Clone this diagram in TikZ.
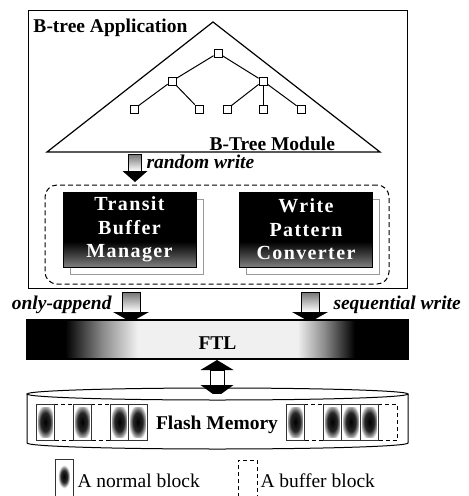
\documentclass[tikz,border=0pt]{standalone}
\usepackage{fontspec}
\setmainfont{Liberation Serif}
\usetikzlibrary{calc}
\pgfdeclareverticalshading{boxsh}{100bp}{color(0bp)=(black!50); color(25bp)=(black!50); color(33bp)=(black!75); color(42bp)=(black); color(100bp)=(black)}
\pgfdeclarehorizontalshading{ftlsh}{100bp}{color(0bp)=(black); color(25bp)=(black); color(30bp)=(black); color(35bp)=(black!45); color(39.5bp)=(black!6); color(60.5bp)=(black!6); color(64bp)=(black!45); color(68bp)=(black); color(75bp)=(black); color(100bp)=(black)}
\pgfdeclareradialshading{blob}{\pgfpoint{0bp}{0bp}}{color(0bp)=(black); color(13bp)=(black!85); color(20bp)=(black!40); color(25bp)=(white); color(50bp)=(white)}
\tikzset{
  tnode/.style={draw, fill=white, minimum size=8pt, inner sep=0pt, line width=0.8pt},
  boldtxt/.style={font=\fontsize{19.5}{23}\selectfont\bfseries, inner sep=0pt},
  labtxt/.style={font=\fontsize{19.5}{23}\selectfont\bfseries\itshape, inner sep=0pt},
  plaintxt/.style={font=\fontsize{19.5}{23}\selectfont, inner sep=0pt},
  darkbox/.style={shade, shading=boxsh, draw=black, minimum width=133pt, minimum height=75pt, inner sep=0pt, text=white, align=center, font=\fontsize{20}{23.5}\selectfont\bfseries\addfontfeature{LetterSpace=7}},
  shadowbox/.style={draw=black!40, line width=1pt, minimum width=133pt, minimum height=75pt, inner sep=0pt},
  nblock/.style={draw=black!80, line width=0.8pt, fill=white, minimum width=18.5pt, minimum height=36pt, inner sep=0pt,
    path picture={\shade[shading=blob] ([xshift=-7.5pt,yshift=-15pt]path picture bounding box.center) rectangle ([xshift=7.5pt,yshift=15pt]path picture bounding box.center);}},
  bblock/.style={draw=black, dash pattern=on 4pt off 3pt, line width=0.9pt, minimum width=18.5pt, minimum height=36pt, inner sep=0pt},
  pics/barrow/.style n args={4}{code={
    \shade[top color=black!55, bottom color=white] (-#1,0) rectangle (#1,#2);
    \draw[line width=1pt] (-#1,#2) -- (-#1,0) -- (#1,0) -- (#1,#2);
    \fill (-#3,#2) -- (#3,#2) -- (0,#2+#4) -- cycle;
  }},
}
\begin{document}
\begin{tikzpicture}[x=1pt, y=-1pt, line width=1pt]
\useasboundingbox (0,0) rectangle (469,496);

% application frame
\node[draw, line width=0.9pt, minimum width=379pt, minimum height=278pt, inner sep=0pt] (appbox) at (217.5,149) {};
\node[boldtxt, anchor=base west] (app) at (33,32) {B-tree Application};

% B-tree module triangle
\draw[line width=1.2pt] (213,22) -- (47,152) -- (380,152) -- cycle;
\node[boldtxt, anchor=base west] (mod) at (209,150) {B-Tree Module};

% tree
\node[tnode] (r) at (218,53) {};
\node[tnode] (a) at (172,81) {};
\node[tnode] (b) at (263,81) {};
\node[tnode] (a1) at (134,109) {};
\node[tnode] (a2) at (199,109) {};
\node[tnode] (b1) at (227,109) {};
\node[tnode] (b2) at (263,109) {};
\node[tnode] (b3) at (301,109) {};
\draw (r) -- (a); \draw (r) -- (b);
\draw (a) -- (a1); \draw (a) -- (a2);
\draw (b) -- (b1); \draw (b) -- (b2); \draw (b) -- (b3);

% random write arrow
\coordinate (rw) at (135,154);
\pic at (rw) {barrow={6.5}{17}{12.5}{11}};
\node[labtxt, anchor=base west] (rwl) at (146,168) {random write};

% dashed group
\node[draw, dash pattern=on 5pt off 3pt, line width=1pt, rounded corners=12pt, minimum width=344pt, minimum height=99pt, inner sep=0pt] (grp) at (217,234.5) {};

\node[shadowbox] (tbms) at (136.5,236.5) {};
\node[shadowbox] (wpcs) at (313,236.5) {};
\node[darkbox] (tbm) at (129.5,229.5) {Transit\\Buffer\\Manager};
\node[darkbox] (wpc) at (306,229.5) {Write\\Pattern\\Converter};

% arrows to FTL
\coordinate (oa) at (131,292);
\coordinate (sw) at (310,292);
\pic at (oa) {barrow={9}{20}{18}{10}};
\pic at (sw) {barrow={9}{20}{18}{10}};
\node[labtxt, anchor=base east] (oal) at (112,309) {only-append};
\node[labtxt, anchor=base west] (swl) at (333,309) {sequential write};

% FTL
\node[shade, shading=ftlsh, draw, line width=2pt, minimum width=381pt, minimum height=39pt, inner sep=0pt] (ftl) at (217.5,339.5) {};
\node[boldtxt] (ftlt) at (217.5,343) {FTL};

% double arrow
\fill (217,360) -- (233.5,370) -- (200.5,370) -- cycle;
\draw[fill=white, line width=1pt] (210,370) rectangle (224,385);
\fill (200.5,385) -- (233.5,385) -- (217,397) -- cycle;

% flash memory cylinder
\draw[fill=white, line width=1pt] (27,394) -- (27,443) arc[start angle=180, end angle=360, x radius=190.5pt, y radius=6pt] -- (408,394);
\draw[line width=1pt] (217.5,394) ellipse [x radius=190.5pt, y radius=6pt];
\node[boldtxt] (fm) at (217,425) {Flash Memory};

% blocks: buffer blocks first
\foreach \c in {63.75,100.75,313.75,387.75} \node[bblock] at (\c,422) {};
\foreach \c/\n in {45.25/n1,82.25/n2,119.25/n3,137.75/n4,295.25/n5,332.25/n6,350.75/n7,369.25/n8} \node[nblock] (\n) at (\c,422) {};

% legend
\coordinate (lg1) at (55,459);
\draw[draw=black!80, line width=0.8pt] (55,497) -- (lg1) -- (73,459) -- (73,497);
\shade[shading=blob] (58,465) rectangle (70,488);
\node[plaintxt, anchor=base west] (ln) at (77,487) {A normal block};
\draw[dash pattern=on 4pt off 3pt, line width=0.9pt] (238,497) -- (238,460) -- (257,460) -- (257,497);
\node[plaintxt, anchor=base west] (lb) at (260,487) {A buffer block};
\end{tikzpicture}
\end{document}
